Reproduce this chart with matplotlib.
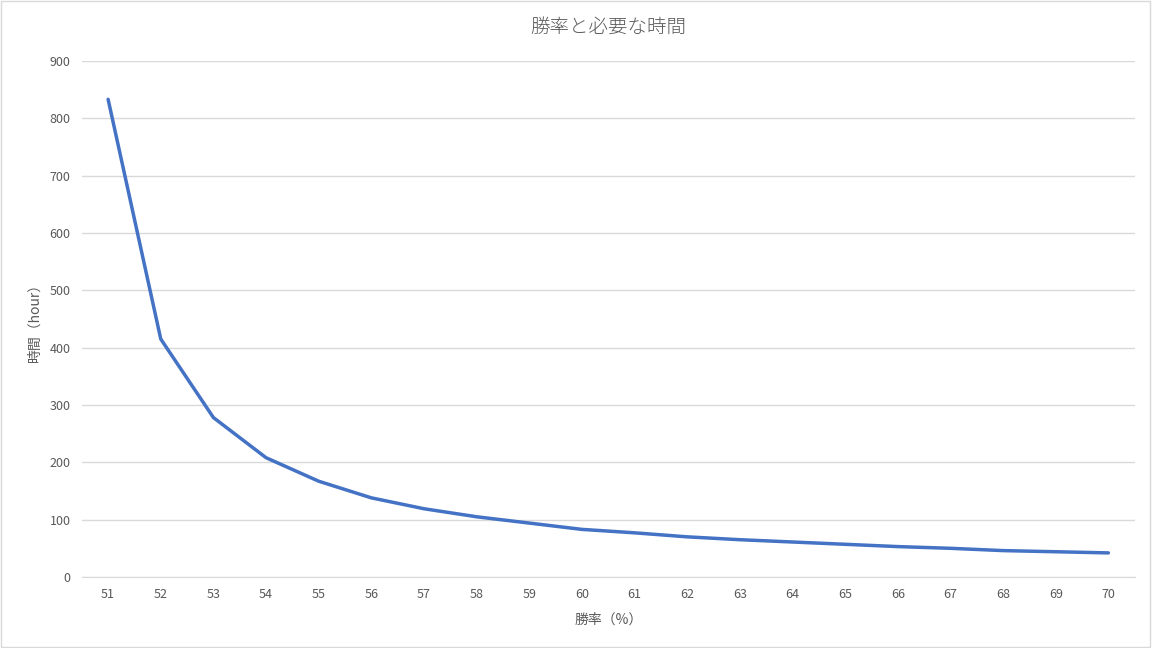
import numpy as np
import matplotlib.pyplot as plt
import matplotlib as mpl
from matplotlib.patches import Rectangle

mpl.rcParams['font.family'] = ['Noto Sans CJK JP', 'DejaVu Sans']

# win rate (%) and hours needed
win_rate = [51, 52, 53, 54, 55, 56, 57, 58, 59, 60,
            61, 62, 63, 64, 65, 66, 67, 68, 69, 70]
hours = [833, 415, 278, 208, 167, 138, 119, 105, 94, 83,
         77, 70, 65, 61, 57, 53, 50, 46, 44, 42]
y_ticks = [0, 100, 200, 300, 400, 500, 600, 700, 800, 900]

text_col = '#595959'
grid_col = '#d9d9d9'

fig = plt.figure(figsize=(11.52, 6.48), dpi=100)
ax = fig.add_axes([0.071, 0.1096, 0.914, 0.7964])

ax.plot(win_rate, hours, color='#4472C4', lw=2.5, solid_capstyle='round')

ax.set_xlim(50.5, 70.5)
ax.set_ylim(0, 900)
ax.set_xticks(win_rate)
ax.set_yticks(y_ticks)
ax.tick_params(length=0, labelsize=9, labelcolor=text_col, pad=8)
ax.grid(axis='y', color=grid_col, lw=1)
ax.set_axisbelow(True)
for s in ['top', 'right', 'left']:
    ax.spines[s].set_visible(False)
ax.spines['bottom'].set_color(grid_col)

ax.set_title('勝率と必要な時間', fontsize=14, color=text_col, pad=20,
             fontweight='light')
ax.set_xlabel('勝率（%）', fontsize=10, color=text_col, labelpad=8)
ax.set_ylabel('時間（hour）', fontsize=10, color=text_col, labelpad=6)

fig.patches.append(Rectangle((0.001, 0.002), 0.997, 0.996, transform=fig.transFigure,
                             fill=False, edgecolor=grid_col, lw=1))

fig.savefig('out.png', dpi=100)
